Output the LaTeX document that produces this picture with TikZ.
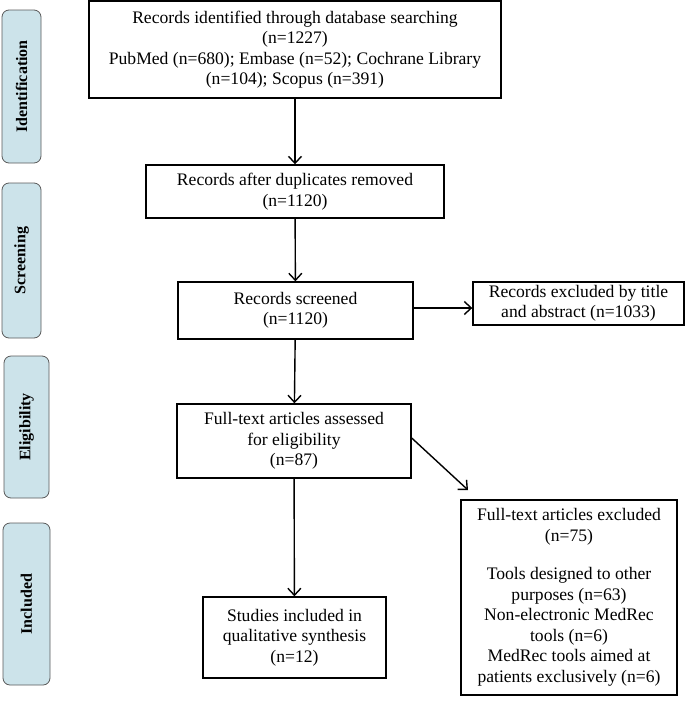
\documentclass[tikz,border=0pt]{standalone}
\usepackage{fontspec}
\setmainfont{Liberation Serif}
\usetikzlibrary{arrows.meta, positioning}
\definecolor{stagefill}{HTML}{CCE3EA}
\definecolor{stageline}{HTML}{5A5A5A}

\begin{document}
\begin{tikzpicture}[x=1pt, y=-1pt,
    box/.style={rectangle, draw, line width=1.4pt, align=center, inner sep=2pt,
        font=\fontsize{17.6}{20.5}\selectfont},
    stage/.style={rectangle, rounded corners=7pt, draw=stageline, line width=0.8pt,
        fill=stagefill},
    stagetext/.style={rotate=90, font=\fontsize{16}{18}\selectfont\bfseries},
    arrow/.style={-{Straight Barb[length=7pt, width=13pt, line width=1.4pt]}, line width=1.4pt}
]
    \useasboundingbox (0,0) rectangle (685,705);
    % stages on the left
    \node[stage, minimum width=39pt, minimum height=153pt] (ident) at (21.5,86.5) {};
    \node[stagetext] at (ident.center) {Identification};
    \node[stage, minimum width=39pt, minimum height=155pt] (screen) at (21.5,260.5) {};
    \node[stagetext] at (screen.center) {Screening};
    \node[stage, minimum width=45pt, minimum height=142pt] (elig) at (26.5,427) {};
    \node[stagetext] at (elig.center) {Eligibility};
    \node[stage, minimum width=47pt, minimum height=162pt] (incl) at (26.5,604) {};
    \node[stagetext] at (incl.center) {Included};

    % flow boxes
    \node[box, minimum width=412pt, minimum height=97pt] (search) at (295,49.5)
        {Records identified through database searching\\(n=1227)\\PubMed (n=680); Embase (n=52); Cochrane Library\\(n=104); Scopus (n=391)};
    \node[box, minimum width=298pt, minimum height=53pt] (dedup) at (295,191.5)
        {Records after duplicates removed\\(n=1120)};
    \node[box, minimum width=235pt, minimum height=57pt] (screened) at (295.5,310.5)
        {Records screened\\(n=1120)};
    \node[box, minimum width=211pt, minimum height=43pt] (excltitle) at (578.5,303.5)
        {Records excluded by title\\and abstract (n=1033)};
    \node[box, minimum width=234pt, minimum height=74pt] (fulltext) at (294,441)
        {Full-text articles assessed\\for eligibility\\(n=87)};
    \node[box, minimum width=216pt, minimum height=195pt] (exclfull) at (569,597.5)
        {Full-text articles excluded\\(n=75)\\[18pt]Tools designed to other\\purposes (n=63)\\Non-electronic MedRec\\tools (n=6)\\MedRec tools aimed at\\patients exclusively (n=6)};
    \node[box, minimum width=183pt, minimum height=81pt] (studies) at (294.5,637.5)
        {Studies included in\\qualitative synthesis\\(n=12)};
    \coordinate (diagtip) at (468,490);

    \draw[arrow] (search) -- (dedup);
    \draw[arrow] (dedup) -- (screened);
    \draw[arrow] ([yshift=2.5pt]screened.east) -- ([yshift=2.5pt]screened.east -| excltitle.west);
    \draw[arrow] (screened) -- (fulltext);
    \draw[arrow] ([yshift=3pt]fulltext.east) -- (diagtip);
    \draw[arrow] (fulltext) -- (studies);
\end{tikzpicture}
\end{document}
